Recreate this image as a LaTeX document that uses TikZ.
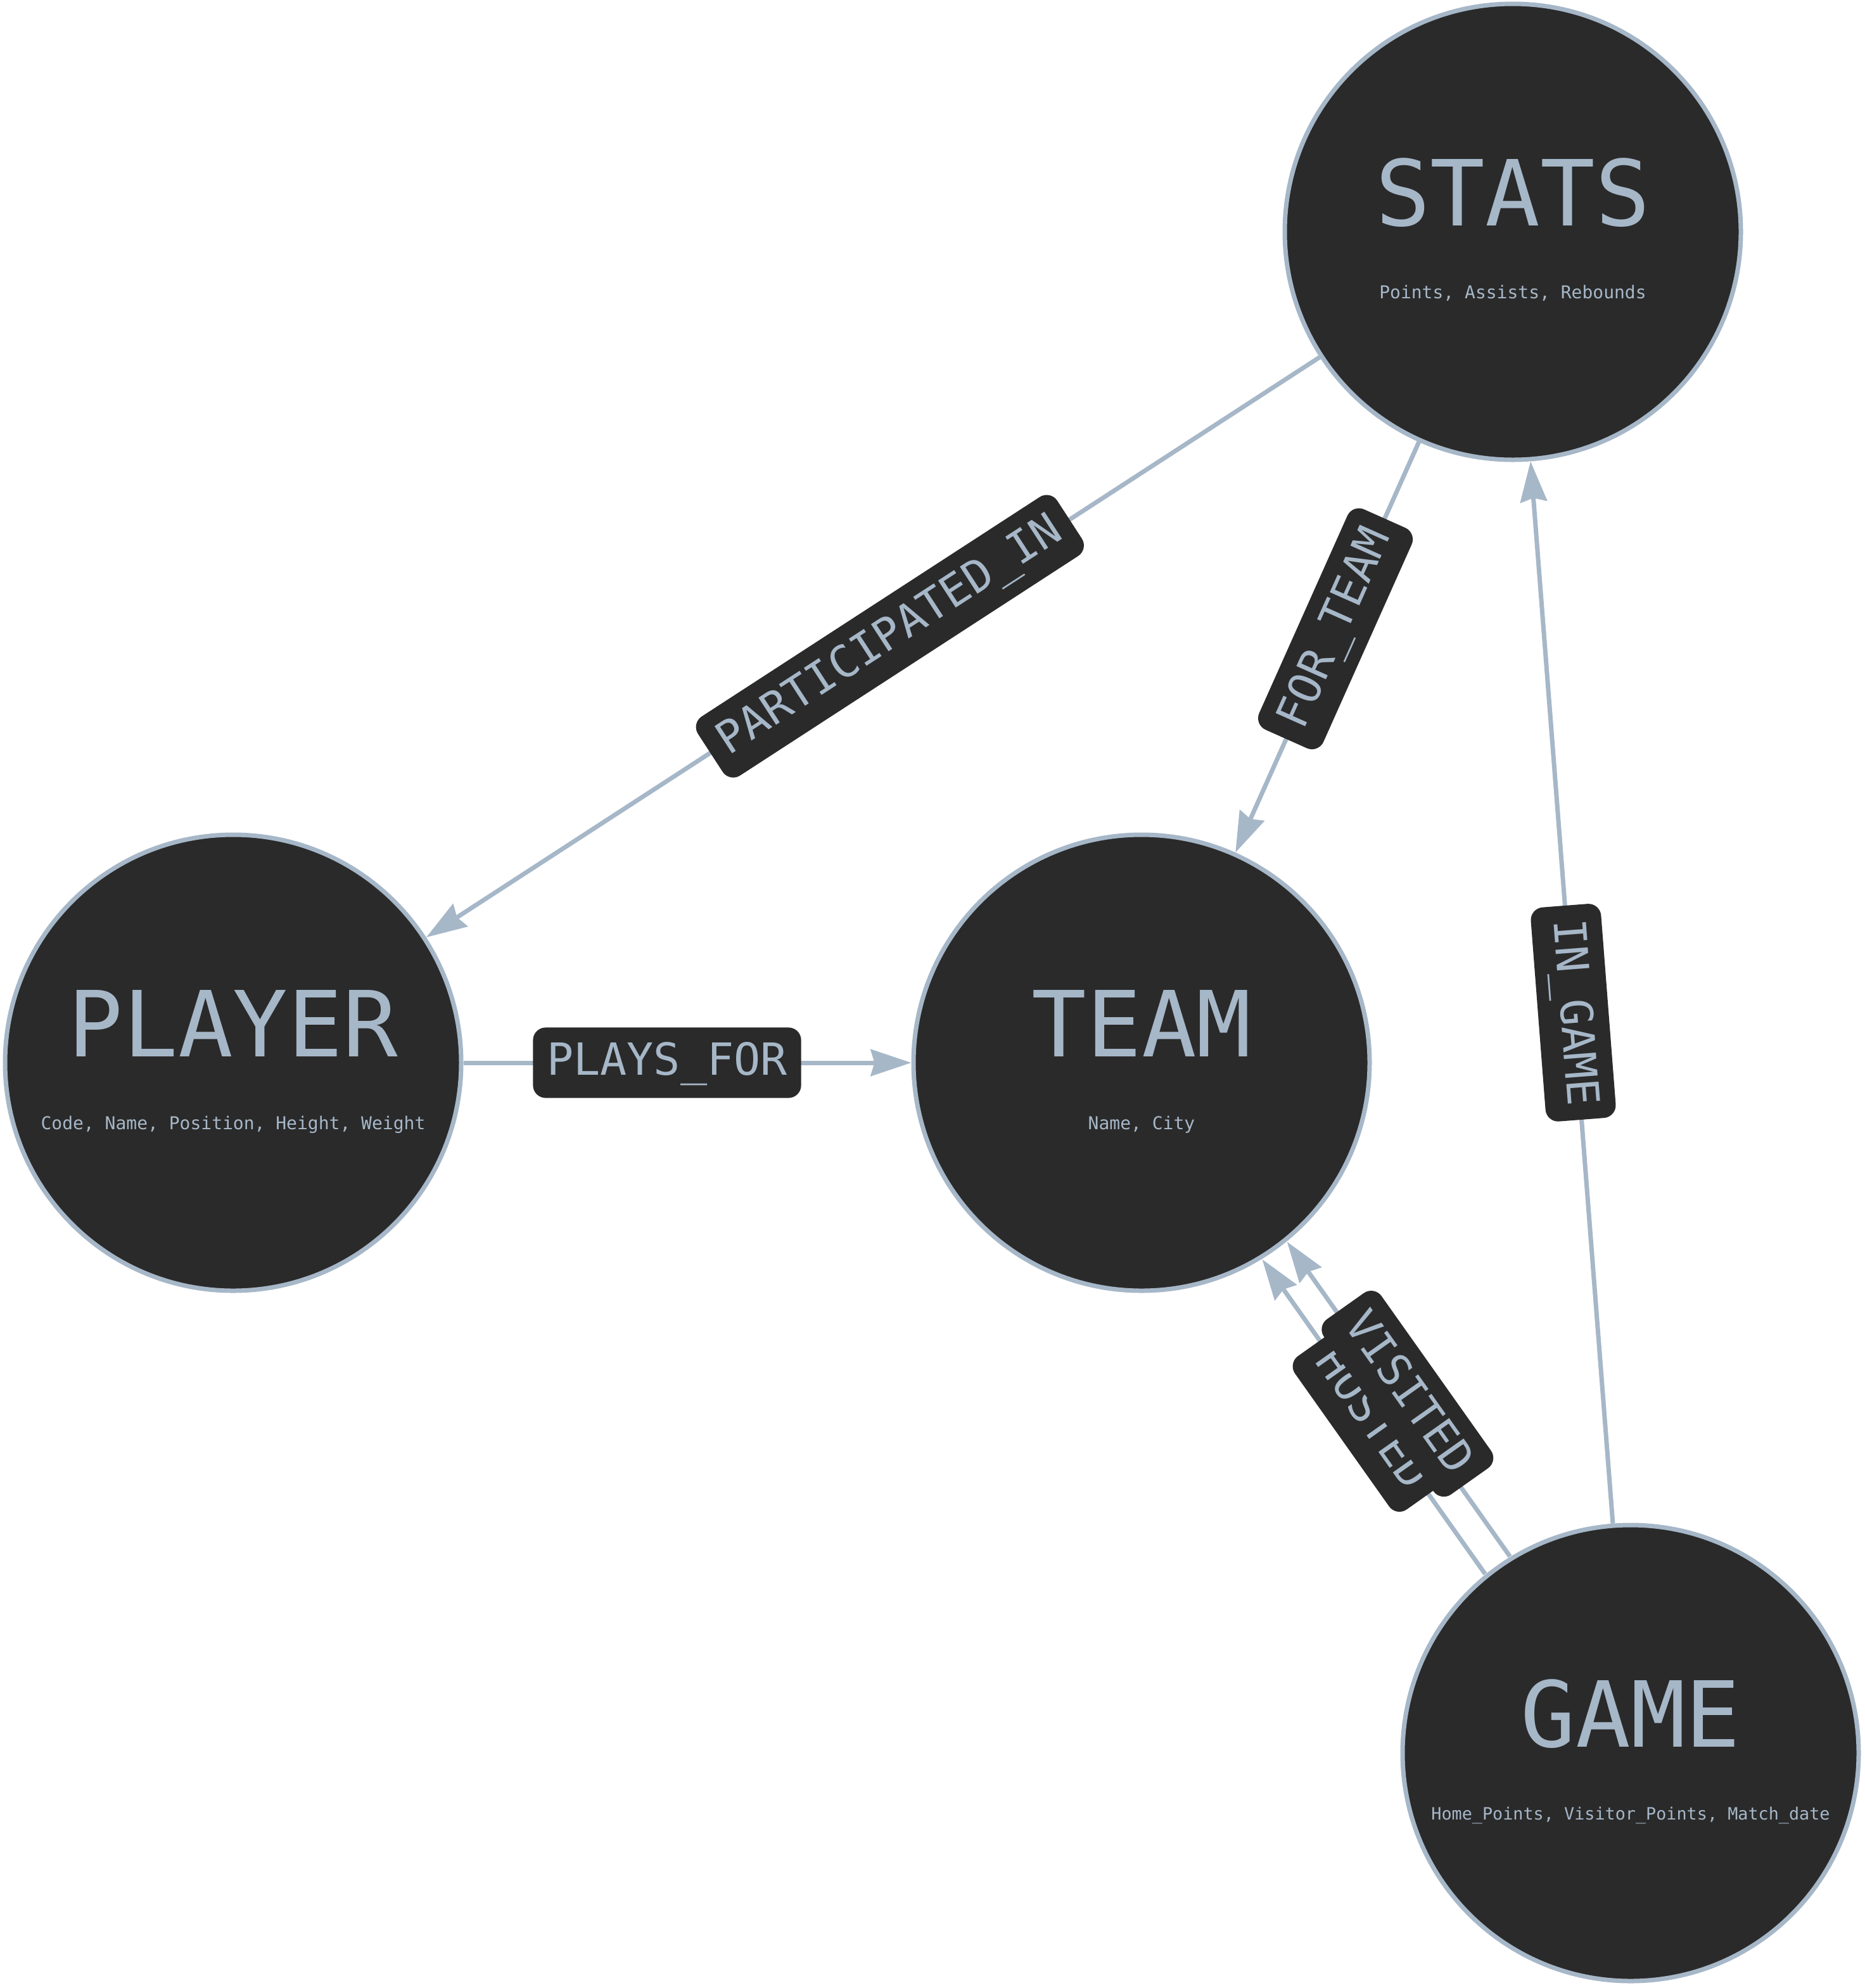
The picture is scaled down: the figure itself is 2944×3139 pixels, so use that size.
\documentclass[tikz,border=0pt]{standalone}
\usepackage{fontspec}
\newfontfamily\fmono{DejaVu Sans Mono}
\usetikzlibrary{arrows.meta,calc}
\definecolor{nodefill}{HTML}{2A2A2A}
\definecolor{edgecol}{HTML}{A6B7C8}
\begin{document}
\begin{tikzpicture}[x=0.25pt,y=-0.25pt,
  entity/.style={circle, draw=edgecol, fill=nodefill, line width=1.75pt, minimum size=180pt, inner sep=0pt},
  enttitle/.style={font=\fmono\fontsize{36}{36}\selectfont, text=edgecol, anchor=base, inner sep=0pt},
  entprops/.style={font=\fmono\fontsize{7}{7}\selectfont, text=edgecol, anchor=base, inner sep=0pt},
  rel/.style={draw=edgecol, line width=1.75pt, -{Stealth[length=16pt,width=10.5pt,inset=1.5pt]}},
  rlabel/.style={fill=nodefill, text=edgecol, rounded corners=5pt, font=\fmono\fontsize{17.5}{17.5}\selectfont, text height=12.7pt, text depth=2.9pt, inner xsep=5.5pt, inner ysep=6.1pt}
]
\useasboundingbox (0,0) rectangle (2944,3139);
\fill[white] (0,0) rectangle (2944,3139);

% entities
\node[entity] (P) at (368,1678) {};
\node[entity] (T) at (1802,1678) {};
\node[entity] (S) at (2388,366) {};
\node[entity] (G) at (2574,2768) {};

\node[enttitle] (Pt) at ($(P)+(0,-10)$) {PLAYER};
\node[entprops] (Pp) at ($(P)+(0,105)$) {Code, Name, Position, Height, Weight};
\node[enttitle] (Tt) at ($(T)+(0,-10)$) {TEAM};
\node[entprops] (Tp) at ($(T)+(0,105)$) {Name, City};
\node[enttitle] (St) at ($(S)+(0,-10)$) {STATS};
\node[entprops] (Sp) at ($(S)+(0,105)$) {Points, Assists, Rebounds};
\node[enttitle] (Gt) at ($(G)+(0,-10)$) {GAME};
\node[entprops, font=\fmono\fontsize{6.7}{6.7}\selectfont] (Gp) at ($(G)+(0,105)$) {Home\_Points, Visitor\_Points, Match\_date};

% relationships
\draw[rel] (S) -- (P);
\draw[rel] (S) -- (T);
\draw[rel] (P) -- (T);
\draw[rel] (G) -- (S);
\draw[rel, transform canvas={shift={(-19.59,13.87)}}] (G) -- (T);
\draw[rel, transform canvas={shift={(19.59,-13.87)}}] (G) -- (T);

% relationship labels
\node[rlabel, rotate=33] (lPI) at (1404.8,1004.6) {PARTICIPATED\_IN};
\node[rlabel, rotate=65.93] (lFT) at (2108.05,992.8) {FOR\_TEAM};
\node[rlabel] (lPF) at (1053,1678) {PLAYS\_FOR};
\node[rlabel, rotate=-85.57] (lIG) at (2483.5,1598.9) {IN\_GAME};
\node[rlabel, rotate=-54.69] (lH) at (2163.9,2241.6) {HOSTED};
\node[rlabel, rotate=-54.69] (lV) at (2221.8,2200.6) {VISITED};
\end{tikzpicture}
\end{document}
